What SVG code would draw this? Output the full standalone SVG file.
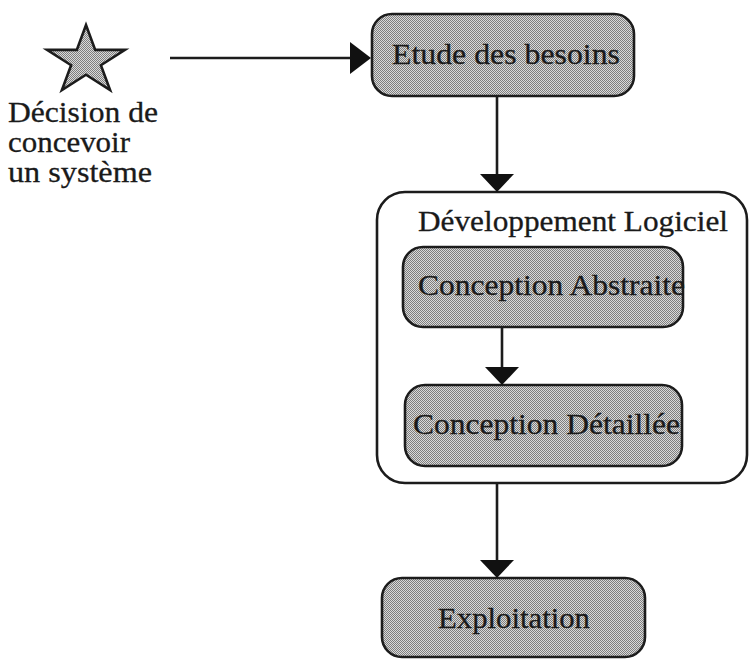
<svg xmlns="http://www.w3.org/2000/svg" width="749" height="659" viewBox="0 0 749 659">
  <defs>
    <!-- fine halftone fill used by the process boxes and the star -->
    <pattern id="halftone" width="2" height="2" patternUnits="userSpaceOnUse">
      <rect width="2" height="2" fill="#dadada"/>
      <rect x="0" y="0" width="1" height="1" fill="#7e7e7e"/>
      <rect x="1" y="1" width="1" height="1" fill="#7e7e7e"/>
    </pattern>
  </defs>
  <style>
    .box { fill: url(#halftone); stroke: #1c1c1c; stroke-width: 2.6; }
    .frame { fill: none; stroke: #1c1c1c; stroke-width: 2.6; }
    .lbl { font-family: "Liberation Serif", "Times New Roman", serif; font-size: 30px; fill: #1a1a1a; stroke: #1a1a1a; stroke-width: 0.3; }
    .wire { stroke: #1c1c1c; stroke-width: 2.6; fill: none; }
    .head { fill: #111; stroke: none; }
  </style>
  <rect width="749" height="659" fill="#ffffff"/>

  <!-- start event: decision to design a system -->
  <g id="start">
    <polygon class="box" points="86,25 95.2,49.9 125,49.9 100.9,65.2 110.1,90.1 86,74.7 61.9,90.1 71.1,65.2 47,49.9 76.8,49.9"/>
    <text class="lbl" x="8" y="122" textLength="150" lengthAdjust="spacingAndGlyphs">Décision de</text>
    <text class="lbl" x="8" y="152" textLength="122" lengthAdjust="spacingAndGlyphs">concevoir</text>
    <text class="lbl" x="8" y="182" textLength="144" lengthAdjust="spacingAndGlyphs">un système</text>
  </g>

  <g id="etude">
    <rect class="box" x="372" y="14" width="262" height="82" rx="20"/>
    <text class="lbl" x="392" y="64" textLength="228" lengthAdjust="spacingAndGlyphs">Etude des besoins</text>
  </g>

  <g id="developpement">
    <rect class="frame" x="377" y="192" width="370" height="291" rx="28"/>
    <text class="lbl" x="418" y="231" textLength="310" lengthAdjust="spacingAndGlyphs">Développement Logiciel</text>
  </g>

  <g id="conception-abstraite">
    <rect class="box" x="403" y="247" width="280" height="80" rx="20"/>
    <text class="lbl" x="418" y="295" textLength="267" lengthAdjust="spacingAndGlyphs">Conception Abstraite</text>
  </g>

  <g id="conception-detaillee">
    <rect class="box" x="405" y="385" width="277" height="81" rx="20"/>
    <text class="lbl" x="413" y="434" textLength="267" lengthAdjust="spacingAndGlyphs">Conception Détaillée</text>
  </g>

  <g id="exploitation">
    <rect class="box" x="382" y="578" width="263" height="79" rx="20"/>
    <text class="lbl" x="438" y="628" textLength="152" lengthAdjust="spacingAndGlyphs">Exploitation</text>
  </g>

  <g id="connectors">
    <line class="wire" x1="170" y1="58" x2="352" y2="58"/>
    <polygon class="head" points="350,42 350,74 371,58"/>

    <line class="wire" x1="497" y1="96" x2="497" y2="176"/>
    <polygon class="head" points="480,174 514,174 497,192"/>

    <line class="wire" x1="502" y1="327" x2="502" y2="369"/>
    <polygon class="head" points="485,367 519,367 502,385"/>

    <line class="wire" x1="497" y1="483" x2="497" y2="562"/>
    <polygon class="head" points="480,560 514,560 497,578"/>
  </g>
</svg>
